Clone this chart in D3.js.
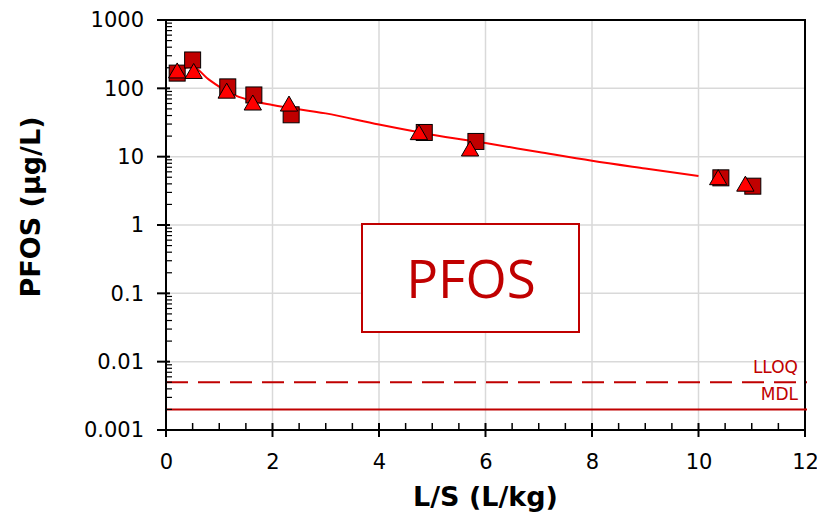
<!DOCTYPE html>
<html>
<head>
<meta charset="utf-8">
<script src="https://cdn.jsdelivr.net/npm/d3@7"></script>
<style>
  body { margin: 0; background: #fff; }
  text { font-family: "DejaVu Sans", Verdana, sans-serif; }
</style>
</head>
<body>
<div id="chart"></div>
<script>
// measured leachate, squares and triangles (two replicates)
const lsSquare = [0.21, 0.50, 1.16, 1.65, 2.35, 4.85, 5.82, 10.42, 11.02];
const pfosSquare = [167, 260, 105, 80, 41, 22.6, 16.7, 4.9, 3.7];
const lsTriangle = [0.21, 0.52, 1.14, 1.63, 2.31, 4.75, 5.71, 10.37, 10.88];
const pfosTriangle = [168, 165, 85, 57, 55, 21, 12.1, 4.6, 3.7];

// fitted model curve
const lsModel = [0.3, 0.5, 0.8, 1.2, 1.6, 2, 3, 4, 5, 6, 7, 8, 9, 10];
const pfosModel = [195, 205, 135, 85, 66, 57, 43, 29.5, 21, 15.8, 11.7, 8.7, 6.7, 5.2];

// limits
const limitNames = ['LLOQ', 'MDL'];
const limitValues = [0.005, 0.002];

const xTicks = [0, 2, 4, 6, 8, 10, 12];
const yTicks = [0.001, 0.01, 0.1, 1, 10, 100, 1000];
const yTickLabels = ['0.001', '0.01', '0.1', '1', '10', '100', '1000'];

let W = 817, H = 512;
let margin = { top: 20, right: 12, bottom: 82, left: 166 };
let x0 = margin.left, x1 = W - margin.right;
let y0 = H - margin.bottom, y1 = margin.top;

let x = d3.scaleLinear().domain([0, 12]).range([x0, x1]);
let y = d3.scaleLog().domain([0.001, 1000]).range([y0, y1]);

let svg = d3.select('#chart').append('svg')
  .attr('width', W).attr('height', H);

// gridlines
svg.append('g').selectAll('line.vg')
  .data(xTicks.slice(1))
  .enter().append('line')
  .attr('x1', d => x(d)).attr('x2', d => x(d))
  .attr('y1', y1).attr('y2', y0)
  .attr('stroke', '#d9d9d9').attr('stroke-width', 1.5);

svg.append('g').selectAll('line.hg')
  .data(yTicks.slice(1))
  .enter().append('line')
  .attr('x1', x0).attr('x2', x1)
  .attr('y1', d => y(d)).attr('y2', d => y(d))
  .attr('stroke', '#d9d9d9').attr('stroke-width', 1.5);

// top and right frame
svg.append('path')
  .attr('d', `M${x0},${y1}H${x1}V${y0}`)
  .attr('fill', 'none').attr('stroke', '#000').attr('stroke-width', 2);

// limit lines
let dash = ['22,10', null];
limitValues.forEach((v, i) => {
  svg.append('line')
    .attr('x1', x0).attr('x2', x1 + 2)
    .attr('y1', y(v)).attr('y2', y(v))
    .attr('stroke', '#c00000').attr('stroke-width', 2)
    .attr('stroke-dasharray', dash[i]);
  svg.append('text')
    .attr('x', x1 - 7).attr('y', y(v) - 9)
    .attr('text-anchor', 'end')
    .attr('font-size', '17px')
    .attr('fill', '#c00000')
    .text(limitNames[i]);
});

// annotation box
svg.append('rect')
  .attr('x', 362).attr('y', 224).attr('width', 217).attr('height', 108)
  .attr('fill', '#fff').attr('stroke', '#c00000').attr('stroke-width', 2);
svg.append('text')
  .attr('x', 471).attr('y', 298)
  .attr('text-anchor', 'middle')
  .style('font-family', '"Open Sans", sans-serif')
  .attr('font-size', '53px')
  .attr('fill', '#c00000')
  .text('PFOS');

// axes
let xAxis = svg.append('g')
  .attr('transform', `translate(0,${y0})`)
  .call(d3.axisBottom(x).tickValues(xTicks).tickSize(0).tickPadding(24).tickFormat(d3.format('d')));
xAxis.select('.domain').attr('stroke-width', 2).attr('d', `M${x0},0H${x1}`);
xAxis.selectAll('text').attr('font-size', '21px').attr('fill', '#000')
  .style('font-family', '"DejaVu Sans", sans-serif');
// major x ticks cross, minor go up
xAxis.selectAll('line.maj').data(xTicks).enter().append('line')
  .attr('x1', d => x(d)).attr('x2', d => x(d)).attr('y1', -7).attr('y2', 7)
  .attr('stroke', '#000').attr('stroke-width', 2);
xAxis.selectAll('line.min').data(d3.range(0.5, 12, 0.5).filter(d => d % 2 !== 0)).enter().append('line')
  .attr('x1', d => x(d)).attr('x2', d => x(d)).attr('y1', -7).attr('y2', 0)
  .attr('stroke', '#000').attr('stroke-width', 1.5);

let yAxis = svg.append('g')
  .attr('transform', `translate(${x0},0)`)
  .call(d3.axisLeft(y).tickValues(yTicks).tickSize(0).tickPadding(22)
    .tickFormat((d, i) => yTickLabels[i]));
yAxis.select('.domain').attr('stroke-width', 2).attr('d', `M0,${y0}V${y1}`);
yAxis.selectAll('text').attr('font-size', '21px').attr('fill', '#000')
  .style('font-family', '"DejaVu Sans", sans-serif');
yAxis.selectAll('line.maj').data(yTicks).enter().append('line')
  .attr('x1', -9).attr('x2', 4).attr('y1', d => y(d)).attr('y2', d => y(d))
  .attr('stroke', '#000').attr('stroke-width', 2);
let minors = [];
yTicks.slice(0, -1).forEach(t => { for (let k = 2; k <= 9; k++) minors.push(t * k); });
yAxis.selectAll('line.min').data(minors).enter().append('line')
  .attr('x1', 0).attr('x2', 6).attr('y1', d => y(d)).attr('y2', d => y(d))
  .attr('stroke', '#000').attr('stroke-width', 1.2);

// axis titles
svg.append('text')
  .attr('x', (x0 + x1) / 2).attr('y', 506)
  .attr('text-anchor', 'middle')
  .attr('font-size', '27px').attr('font-weight', 'bold')
  .text('L/S (L/kg)');

svg.append('text')
  .attr('transform', `translate(40,${207}) rotate(-90)`)
  .attr('text-anchor', 'middle')
  .attr('font-size', '27px').attr('font-weight', 'bold')
  .text('PFOS (µg/L)');

// model line
let line = d3.line()
  .x(d => x(d[0])).y(d => y(d[1]))
  .curve(d3.curveMonotoneX);
svg.append('path')
  .datum(lsModel.map((d, i) => [d, pfosModel[i]]))
  .attr('d', line)
  .attr('fill', 'none').attr('stroke', '#ff0000').attr('stroke-width', 2);

// squares
svg.append('g').selectAll('rect')
  .data(lsSquare.map((d, i) => [d, pfosSquare[i]]))
  .enter().append('rect')
  .attr('x', d => x(d[0]) - 8).attr('y', d => y(d[1]) - 8)
  .attr('width', 16).attr('height', 16)
  .attr('fill', '#c00000').attr('stroke', '#000').attr('stroke-width', 1);

// triangles
let tri = d3.symbol().type(d3.symbolTriangle).size(130);
svg.append('g').selectAll('path')
  .data(lsTriangle.map((d, i) => [d, pfosTriangle[i]]))
  .enter().append('path')
  .attr('d', tri)
  .attr('transform', d => `translate(${x(d[0])},${y(d[1])})`)
  .attr('fill', '#ff0000').attr('stroke', '#000').attr('stroke-width', 1);
</script>
</body>
</html>
